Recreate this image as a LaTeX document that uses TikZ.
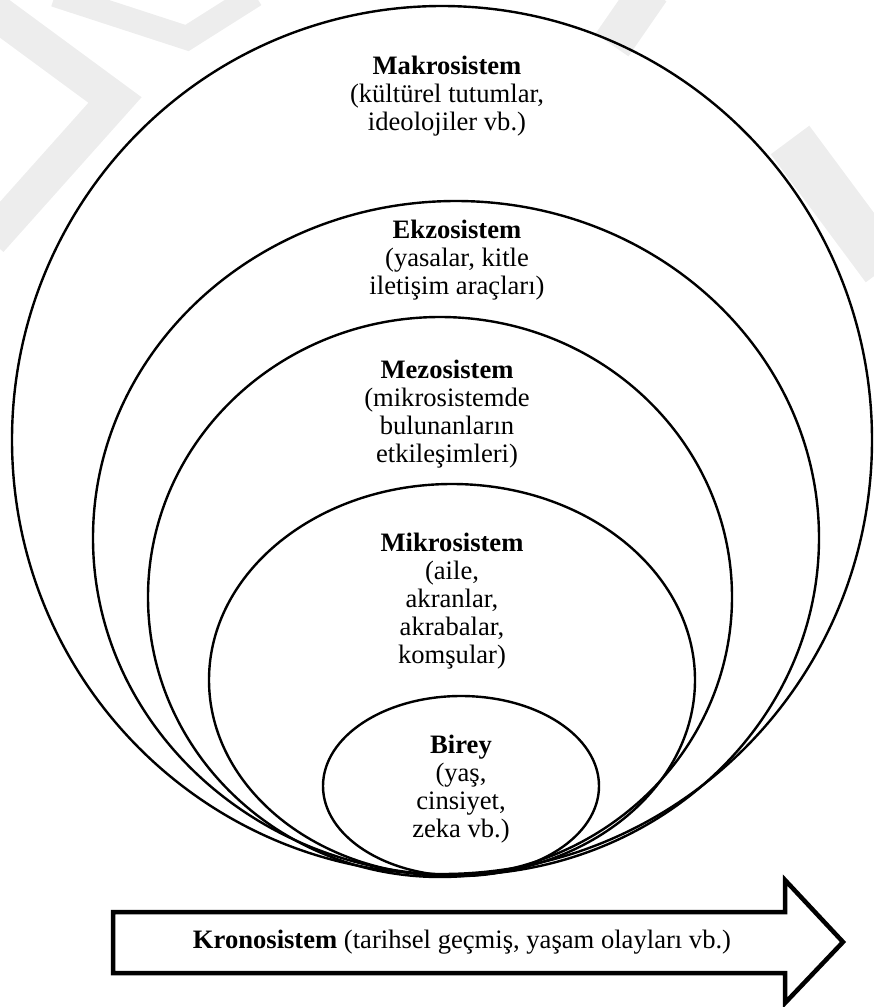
\documentclass[tikz,border=0pt]{standalone}
\usepackage{fontspec}
\setmainfont{Liberation Serif}
\usetikzlibrary{shapes.geometric,positioning}

\begin{document}
\begin{tikzpicture}[x=1pt,y=-1pt,
    sys/.style={ellipse, draw, line width=2.4pt, inner sep=0pt},
    lbl/.style={align=center, inner sep=0pt, font=\fontsize{26.6}{28}\selectfont},
    wm/.style={line width=#1, black!7, line join=miter}]
    \useasboundingbox (0,0) rectangle (874,1007);
    % faint watermark in the background
    \begin{scope}
    \clip (0,0) rectangle (874,1007);
    \draw[wm=36pt] (-10,8) -- (115,100) -- (-10,240);
    \draw[wm=24pt] (55,-5) -- (187,38) -- (255,-5);
    \draw[wm=40pt] (650,-10) -- (612,45);
    \draw[wm=48pt] (790,140) -- (885,268);
    \end{scope}
    % the nested systems, all touching at the bottom
    \node[sys, minimum width=860pt, minimum height=868pt] (makro) at (442,440) {};
    \node[sys, minimum width=726pt, minimum height=674pt] (ekzo)  at (456,538) {};
    \node[sys, minimum width=584pt, minimum height=560pt] (mezo)  at (440,597) {};
    \node[sys, minimum width=486pt, minimum height=392pt] (mikro) at (452,680) {};
    \node[sys, minimum width=276pt, minimum height=180pt] (birey) at (461,786) {};
    % labels
    \node[lbl] (makrotxt) at (447,96)  {\textbf{Makrosistem}\\(kültürel tutumlar,\\ideolojiler vb.)};
    \node[lbl] (ekzotxt)  at (457,260) {\textbf{Ekzosistem}\\(yasalar, kitle\\iletişim araçları)};
    \node[lbl] (mezotxt)  at (447,414) {\textbf{Mezosistem}\\(mikrosistemde\\bulunanların\\etkileşimleri)};
    \node[lbl] (mikrotxt) at (452,601) {\textbf{Mikrosistem}\\(aile,\\akranlar,\\akrabalar,\\komşular)};
    \node[lbl] (bireytxt) at (461,789) {\textbf{Birey}\\(yaş,\\cinsiyet,\\zeka vb.)};
    % time arrow
    \draw[line width=4.5pt, line join=miter]
        (113,912) -- (785,912) -- (785,880) -- (843,942) -- (785,1003)
        -- (785,973) -- (113,973) -- cycle;
    \node[lbl] (krono) at (462,942) {\textbf{Kronosistem} (tarihsel geçmiş, yaşam olayları vb.)};
\end{tikzpicture}
\end{document}
